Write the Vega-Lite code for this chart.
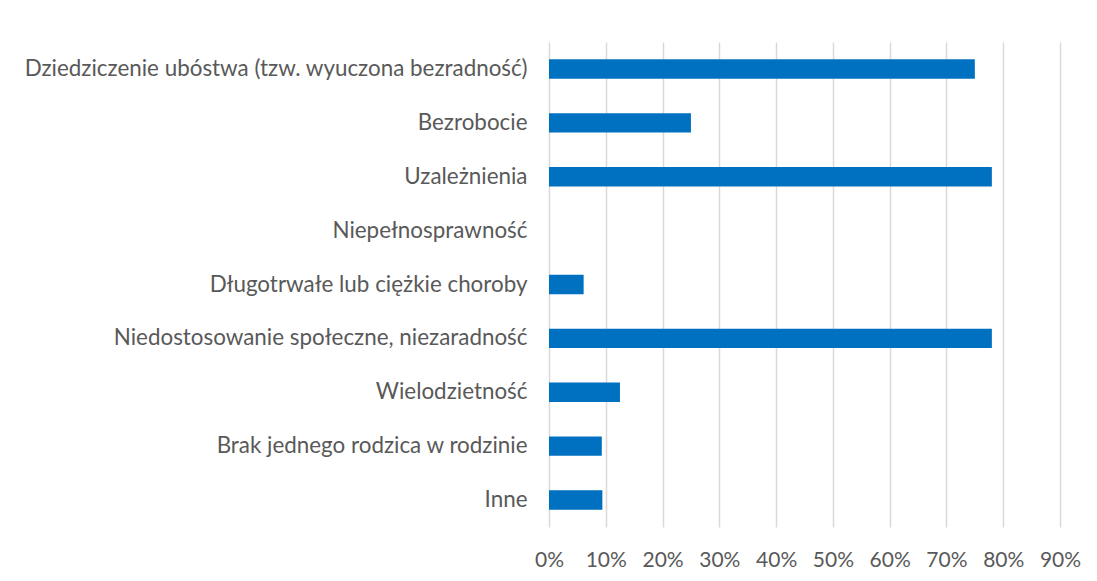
{
  "$schema": "https://vega.github.io/schema/vega-lite/v6.json",
  "autosize": "none",
  "padding": {"left": 549, "top": 42, "right": 37, "bottom": 54},
  "width": 511,
  "height": 485,
  "background": "white",
  "data": {
    "values": [
      {"kategoria": "Dziedziczenie ubóstwa (tzw. wyuczona bezradność)", "udzial": 0.75},
      {"kategoria": "Bezrobocie", "udzial": 0.25},
      {"kategoria": "Uzależnienia", "udzial": 0.78},
      {"kategoria": "Niepełnosprawność", "udzial": 0},
      {"kategoria": "Długotrwałe lub ciężkie choroby", "udzial": 0.061},
      {"kategoria": "Niedostosowanie społeczne, niezaradność", "udzial": 0.78},
      {"kategoria": "Wielodzietność", "udzial": 0.125},
      {"kategoria": "Brak jednego rodzica w rodzinie", "udzial": 0.093},
      {"kategoria": "Inne", "udzial": 0.094}
    ]
  },
  "mark": {"type": "bar", "color": "#0070C0"},
  "encoding": {
    "y": {
      "field": "kategoria",
      "type": "nominal",
      "sort": null,
      "scale": {"paddingInner": 0.64, "paddingOuter": 0.32},
      "axis": {
        "title": null,
        "domain": false,
        "ticks": false,
        "grid": false,
        "labelPadding": 22,
        "labelFont": "Lato",
        "labelFontSize": 22.4,
        "labelColor": "#595959",
        "labelLimit": 600
      }
    },
    "x": {
      "field": "udzial",
      "type": "quantitative",
      "scale": {"domain": [0, 0.9], "nice": false},
      "axis": {
        "title": null,
        "values": [0, 0.1, 0.2, 0.3, 0.4, 0.5, 0.6, 0.7, 0.8, 0.9],
        "format": ".0%",
        "domain": false,
        "ticks": false,
        "grid": true,
        "gridColor": "#d9d9d9",
        "gridWidth": 1.5,
        "labelPadding": 22,
        "labelFont": "Lato",
        "labelFontSize": 21,
        "labelColor": "#595959",
        "labelFlush": false
      }
    }
  },
  "config": {"view": {"stroke": null}}
}
